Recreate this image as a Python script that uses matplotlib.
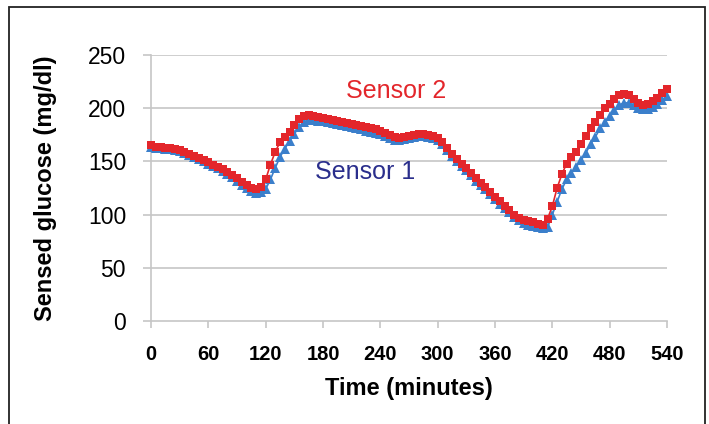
import matplotlib
matplotlib.use("Agg")
import matplotlib.pyplot as plt
from matplotlib.patches import Rectangle
import numpy as np

# Time in minutes (5-minute sampling)
time_min = list(range(0, 545, 5))

sensor2 = [165, 164, 164, 163, 163, 162, 161, 159, 157, 155, 153, 151, 149, 147, 145, 143,
           140, 137, 134, 131, 128, 125, 124, 126, 133, 147, 159, 168, 173, 178, 184, 190,
           193, 194, 193, 192, 191, 190, 189, 188, 187, 186, 185, 184, 183, 182, 181, 180,
           179, 177, 175, 173, 172, 173, 174, 175, 176, 176, 175, 174, 172, 168, 163, 157,
           152, 148, 144, 139, 134, 130, 126, 121, 117, 113, 108, 104, 100, 97, 95, 94,
           93, 91, 90, 96, 108, 125, 138, 148, 154, 159, 166, 174, 181, 187, 194, 200,
           204, 209, 212, 213, 212, 209, 205, 203, 204, 207, 210, 214, 218]

sensor1 = [164, 163, 163, 162, 162, 161, 160, 158, 156, 154, 152, 150, 148, 146, 144, 141,
           138, 135, 132, 128, 125, 122, 120, 121, 124, 133, 144, 154, 162, 169, 176, 182,
           187, 189, 189, 188, 188, 187, 186, 185, 184, 183, 182, 181, 180, 179, 178, 177,
           176, 174, 172, 170, 170, 171, 172, 173, 174, 174, 173, 172, 170, 166, 161, 155,
           150, 146, 142, 137, 132, 128, 124, 119, 115, 110, 106, 102, 98, 95, 92, 90,
           89, 88, 87, 88, 100, 112, 124, 133, 139, 145, 151, 158, 166, 173, 181, 187,
           193, 198, 203, 205, 205, 203, 200, 199, 199, 201, 204, 208, 211]

x_ticks = [0, 60, 120, 180, 240, 300, 360, 420, 480, 540]
y_ticks = [0, 50, 100, 150, 200, 250]

W, H = 709, 424
fig = plt.figure(figsize=(W / 100, H / 100), dpi=100)
plt.rcParams['font.family'] = ['Liberation Sans', 'DejaVu Sans']

ax = fig.add_axes([151 / W, 1 - 321 / H, (667 - 151) / W, (321 - 55) / H])

grid_c = '#c6c6c6'
ax.set_xlim(0, 540)
ax.set_ylim(0, 250)
ax.set_yticks(y_ticks)
ax.set_xticks(x_ticks)
for y in y_ticks[1:]:
    ax.axhline(y, color=grid_c, lw=1.2, zorder=0)

blue = '#3b7fcb'
red = '#e3262b'
ax.plot(time_min, sensor1, color=blue, lw=1.2, marker='^', ms=7,
        markeredgewidth=0, clip_on=False, zorder=3)
ax.plot(time_min, sensor2, color=red, lw=1.2, marker='s', ms=5.6,
        markeredgewidth=0, clip_on=False, zorder=4)

for s in ['top', 'right']:
    ax.spines[s].set_visible(False)
for s in ['left', 'bottom']:
    ax.spines[s].set_color(grid_c)
    ax.spines[s].set_linewidth(1.2)

ax.tick_params(axis='y', direction='out', length=6, width=1.2, color=grid_c,
               labelsize=16.5, pad=12)
ax.tick_params(axis='x', direction='out', length=5, width=1.2, color=grid_c,
               labelsize=14.5, pad=12)
for lab in ax.get_xticklabels():
    lab.set_fontweight('bold')

ax.set_xlabel('Time (minutes)', fontsize=17, fontweight='bold', labelpad=10)
ax.set_ylabel('Sensed glucose (mg/dl)', fontsize=17, fontweight='bold', labelpad=22)

fig.text(396 / W, 1 - 91 / H, 'Sensor 2', color=red, fontsize=18,
         ha='center', va='center')
fig.text(365 / W, 1 - 172 / H, 'Sensor 1', color='#2a2e8c', fontsize=18,
         ha='center', va='center')

# outer frame
fig.patches.append(Rectangle((9 / W, -0.05), (705 - 9) / W, 1.05 - 7 / H,
                             transform=fig.transFigure, fill=False,
                             edgecolor='#222222', lw=1.3))

fig.savefig('out.png', dpi=100)
